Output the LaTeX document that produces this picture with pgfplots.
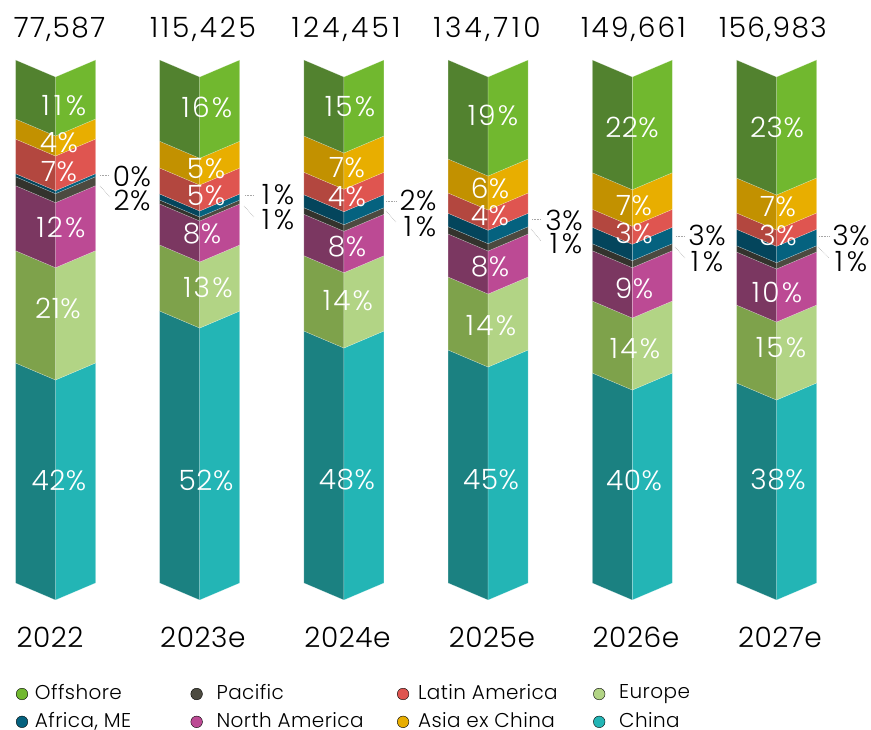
\documentclass[border=0pt]{standalone}
\usepackage{fontspec}
\setmainfont[UprightFont=* Light,LetterSpace=2]{Poppins}
\usepackage{pgfplots}
\pgfplotsset{compat=1.18}
\definecolor{offshoreR}{HTML}{71B82F}\definecolor{offshoreL}{HTML}{52822F}
\definecolor{asiaR}{HTML}{E8AE00}\definecolor{asiaL}{HTML}{C29100}
\definecolor{latamR}{HTML}{DF5550}\definecolor{latamL}{HTML}{B3473F}
\definecolor{africaR}{HTML}{05627F}\definecolor{africaL}{HTML}{04455C}
\definecolor{pacificR}{HTML}{4C4A40}\definecolor{pacificL}{HTML}{33332D}
\definecolor{naR}{HTML}{BC4A94}\definecolor{naL}{HTML}{7B3761}
\definecolor{europeR}{HTML}{B2D485}\definecolor{europeL}{HTML}{7EA24B}
\definecolor{chinaR}{HTML}{23B5B5}\definecolor{chinaL}{HTML}{1B8181}
% one segment of a chevron bar: index, lower and upper cumulative share, colour name
\newcommand\seg[4]{%
  \pgfmathsetmacro\xa{#1-0.2774}\pgfmathsetmacro\xc{#1+0.2774}%
  \pgfmathsetmacro\yl{#2-3.25}\pgfmathsetmacro\yh{#3-3.25}%
  \edef\tmp{\noexpand\addplot[forget plot,fill=#4L,draw=white,draw opacity=.4,line width=.4bp] coordinates {(\xa,#2)(\xa,#3)(#1,\yh)(#1,\yl)} -- cycle;
  \noexpand\addplot[forget plot,fill=#4R,draw=white,draw opacity=.4,line width=.4bp] coordinates {(#1,\yl)(#1,\yh)(\xc,#3)(\xc,#2)} -- cycle;}\tmp}
\newcommand\stack[9]{%
  \seg{#1}{0}{#2}{china}\seg{#1}{#2}{#3}{europe}\seg{#1}{#3}{#4}{na}\seg{#1}{#4}{#5}{pacific}%
  \seg{#1}{#5}{#6}{africa}\seg{#1}{#6}{#7}{latam}\seg{#1}{#7}{#8}{asia}\seg{#1}{#8}{#9}{offshore}}
\newcommand\lb[4][black]{\node[text=#1,inner sep=0pt,anchor=center] at (#2bp,{730bp-#3bp}) {#4};}
\newcommand\ww[2][8]{{\addfontfeatures{LetterSpace=#1}#2}}
\newcommand\lead[4]{\draw[gray!70,densely dotted,line width=.6bp] (#1bp,{730bp-#2bp}) -- (#3bp,{730bp-#4bp});}
\begin{document}
\fontsize{28bp}{32bp}\selectfont
\begin{tikzpicture}
\path[use as bounding box] (0,0) rectangle (871bp,730bp);
\begin{axis}[at={(0,0)},anchor=south west,scale only axis,width=871bp,height=730bp,
  xmin=-0.3849,xmax=5.6553,ymin=-28.107,ymax=111.472,clip=false,
  axis line style={draw=none},major tick length=0pt,ytick=\empty,
  xtick={-0.038,1.022,2.025,3.026,4.025,5.024},
  xticklabels={2022,2023e,2024e,2025e,2026e,2027e},
  xticklabel style={anchor=center,yshift=93bp},
  legend columns=4,
  legend cell align=left,
  legend image code/.code={\fill[#1] (0,0) circle (5.8bp);},
  legend style={draw=none,fill=none,at={(16bp,-3.5bp)},anchor=south west,inner sep=0pt,outer sep=0pt,font=\fontsize{20bp}{26bp}\selectfont,
    row sep=4.5bp,
    /tikz/column 1/.style={column sep=5bp},
    /tikz/column 2/.style={column sep=57.5bp},
    /tikz/column 3/.style={column sep=12bp},
    /tikz/column 4/.style={column sep=31.5bp},
    /tikz/column 5/.style={column sep=7bp},
    /tikz/column 6/.style={column sep=33.5bp},
    /tikz/column 7/.style={column sep=12bp}},
]
\stack{0}{42.07}{63.54}{75.97}{77.69}{78.26}{84.89}{88.72}{100}
\stack{1}{52.00}{64.63}{72.47}{73.23}{74.38}{79.35}{84.46}{100}
\stack{2}{48.18}{62.58}{70.50}{71.76}{74.24}{78.53}{85.47}{100}
\stack{3}{44.55}{58.51}{66.73}{68.13}{70.69}{74.57}{81.07}{100}
\stack{4}{40.15}{53.92}{63.54}{64.88}{68.01}{71.45}{78.45}{100}
\stack{5}{38.24}{53.15}{63.29}{64.49}{67.63}{70.75}{77.44}{100}
\addlegendimage{fill=offshoreR}\addlegendentry{Offshore}
\addlegendimage{fill=pacificR}\addlegendentry{Pacific}
\addlegendimage{fill=latamR}\addlegendentry{Latin America}
\addlegendimage{fill=europeR}\addlegendentry{Europe}
\addlegendimage{fill=africaR}\addlegendentry{Africa, ME}
\addlegendimage{fill=naR}\addlegendentry{North America}
\addlegendimage{fill=asiaR}\addlegendentry{Asia ex China}
\addlegendimage{fill=chinaR}\addlegendentry{China}
\end{axis}
% totals
\lb{59.5}{29}{\ww[5]{77,587}}\lb{203}{29}{\ww[10]{115,425}}\lb{346}{29}{\ww[12]{124,451}}\lb{487}{29}{\ww[12]{134,710}}\lb{633.5}{29}{\ww[8]{149,661}}\lb{773}{29}{\ww[5]{156,983}}
% inner shares
\lb[white]{64}{106}{\ww[14]{11\%}}\lb[white]{59}{143}{4\%}\lb[white]{59}{172}{7\%}\lb[white]{61}{227}{\ww{12\%}}\lb[white]{58}{308}{21\%}\lb[white]{59}{480}{42\%}
\lb[white]{207}{107}{\ww{16\%}}\lb[white]{206}{169}{5\%}\lb[white]{206}{196}{5\%}\lb[white]{202}{234}{8\%}\lb[white]{208}{287}{\ww{13\%}}\lb[white]{206}{480}{52\%}
\lb[white]{350}{107}{\ww{15\%}}\lb[white]{347}{168}{7\%}\lb[white]{347}{197}{4\%}\lb[white]{347}{247}{8\%}\lb[white]{348}{301}{\ww{14\%}}\lb[white]{347}{480}{48\%}
\lb[white]{493}{115}{\ww{19\%}}\lb[white]{490}{188}{6\%}\lb[white]{490}{216}{4\%}\lb[white]{490}{267}{8\%}\lb[white]{491}{326}{\ww{14\%}}\lb[white]{491}{480}{45\%}
\lb[white]{632}{127}{22\%}\lb[white]{634}{206}{7\%}\lb[white]{634}{233}{3\%}\lb[white]{634}{288}{9\%}\lb[white]{635}{349}{\ww{14\%}}\lb[white]{634}{480}{40\%}
\lb[white]{777}{127}{23\%}\lb[white]{778}{207}{7\%}\lb[white]{778}{235}{3\%}\lb[white]{777}{292}{\ww{10\%}}\lb[white]{781}{348}{\ww{15\%}}\lb[white]{778}{480}{38\%}
% outside shares
\lb{132}{176}{0\%}\lb{132}{200}{2\%}\lb{278}{195}{\ww[14]{1\%}}\lb{278}{220}{\ww[14]{1\%}}\lb{418}{200}{2\%}\lb{420}{227}{\ww[14]{1\%}}
\lb{564}{220}{3\%}\lb{566}{244}{\ww[14]{1\%}}\lb{707}{235}{3\%}\lb{707}{262}{\ww[14]{1\%}}\lb{851}{235}{3\%}\lb{851}{262}{\ww[14]{1\%}}
\lead{100}{175}{109}{175}\lead{100}{186}{110}{197}
\lead{245}{195}{254}{195}\lead{244}{206}{254}{217}
\lead{386}{201}{396}{201}\lead{386}{211}{396}{222}
\lead{532}{219.5}{541}{219.5}\lead{531}{229}{541}{241}
\lead{676}{236}{685}{236}\lead{675}{247}{685}{258}
\lead{819}{236}{829}{236}\lead{818}{247}{829}{258}
\end{tikzpicture}
\end{document}
